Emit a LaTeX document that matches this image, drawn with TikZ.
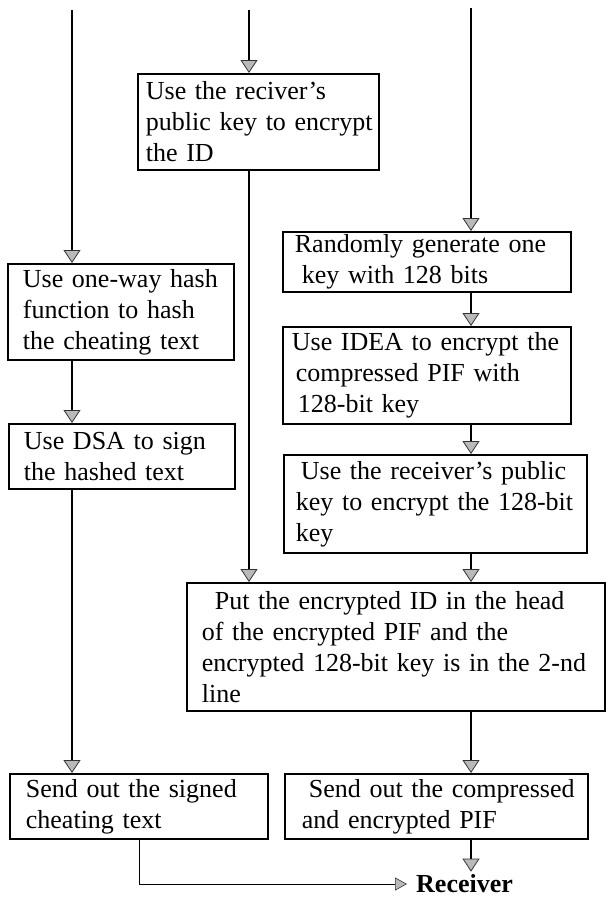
\documentclass[tikz,border=0pt]{standalone}
\usepackage{fontspec}
\setmainfont{Liberation Serif}
\usetikzlibrary{arrows.meta}

% 方框与箭头样式
\tikzset{
  box/.style={draw, line width=1.8pt, anchor=north west, align=left,
    inner xsep=3pt, inner ysep=0pt,
    execute at begin node={\hyphenpenalty=10000}},
  flow/.style={line width=1.6pt,
    -{Triangle[width=17pt, length=13pt, fill=gray!55, color=black!80, line width=0.8pt]}},
  flowthin/.style={line width=1pt,
    -{Triangle[width=13pt, length=12pt, fill=gray!55, color=black!80, line width=0.6pt]}},
}

\begin{document}
\begin{tikzpicture}[x=1pt, y=-1pt, font=\fontsize{26}{31}\selectfont]
    % --- 画布大小 (与原图像素一致) ---
    \useasboundingbox (0,0) rectangle (607,898);

    % --- 三条输入线的起点 ---
    \coordinate (inL) at (72,10);     % 左列
    \coordinate (inM) at (249,10);    % 中列
    \coordinate (inR) at (471,8);     % 右列
    \coordinate (outL) at (139,0);    % 去往 Receiver 的折线

    % --- 中列: 加密 ID ---
    \node[box, text width=235pt, minimum height=96pt] (encid) at (137,73)
        {\hspace*{5pt}Use the reciver’s\\\hspace*{5pt}public key to encrypt\\\hspace*{5pt}the ID};

    % --- 右列: 生成密钥, IDEA 加密, 加密密钥 ---
    \node[box, text width=282pt, minimum height=60pt] (randkey) at (282,231)
        {\hspace*{9pt}Randomly generate one\\\hspace*{16pt}key with 128 bits};
    \node[box, text width=282pt, minimum height=97pt] (idea) at (282,326)
        {\hspace*{6pt}Use IDEA to encrypt the\\\hspace*{10pt}compressed PIF with\\\hspace*{12pt}128-bit key};
    \node[box, text width=297pt, minimum height=98pt] (enckey) at (283,454)
        {\hspace*{14pt}Use the receiver’s public\\\hspace*{9pt}key to encrypt the 128-bit\\\hspace*{9pt}key};

    % --- 左列: 哈希与签名 ---
    \node[box, text width=220pt, minimum height=96pt] (hash) at (7,263)
        {\hspace*{12pt}Use one-way hash\\\hspace*{12pt}function to hash\\\hspace*{12pt}the cheating text};
    \node[box, text width=220pt, minimum height=65pt] (dsa) at (8,423)
        {\hspace*{12pt}Use DSA to sign\\\hspace*{12pt}the hashed text};

    % --- 合并 ---
    \node[box, text width=412pt, minimum height=128pt] (put) at (186,582)
        {\hspace*{25pt}Put the encrypted ID in the head\\\hspace*{12pt}of the encrypted PIF and the\\\hspace*{12pt}encrypted 128-bit key is in the 2-nd\\\hspace*{12pt}line};

    % --- 发送 ---
    \node[box, text width=252pt, minimum height=65pt] (send1) at (9,773)
        {\hspace*{13pt}Send out the signed\\\hspace*{13pt}cheating text};
    \node[box, text width=297pt, minimum height=65pt] (send2) at (284,773)
        {\hspace*{21pt}Send out the compressed\\\hspace*{14pt}and encrypted PIF};

    \node[anchor=west, inner xsep=9pt, inner ysep=3pt, font=\fontsize{26}{31}\selectfont\bfseries]
        (recv) at (407,884) {Receiver};

    % --- 连线 ---
    \draw[flow] (inL) -- (hash.north -| inL);
    \draw[flow] (inM) -- (encid.north -| inM);
    \draw[flow] (inR) -- (randkey.north -| inR);

    \draw[flow] (randkey.south -| inR) -- (idea.north -| inR);
    \draw[flow] (idea.south -| inR) -- (enckey.north -| inR);
    \draw[flow] (enckey.south -| inR) -- (put.north -| inR);
    \draw[flow] (put.south -| inR) -- (send2.north -| inR);
    \draw[flow] (send2.south -| inR) -- (recv.north -| inR);

    \draw[flow] (hash.south -| inL) -- (dsa.north -| inL);
    \draw[flow] (dsa.south -| inL) -- (send1.north -| inL);

    \draw[flow] (encid.south -| inM) -- (put.north -| inM);

    \draw[flowthin] (send1.south -| outL) |- (recv.west);

\end{tikzpicture}
\end{document}
